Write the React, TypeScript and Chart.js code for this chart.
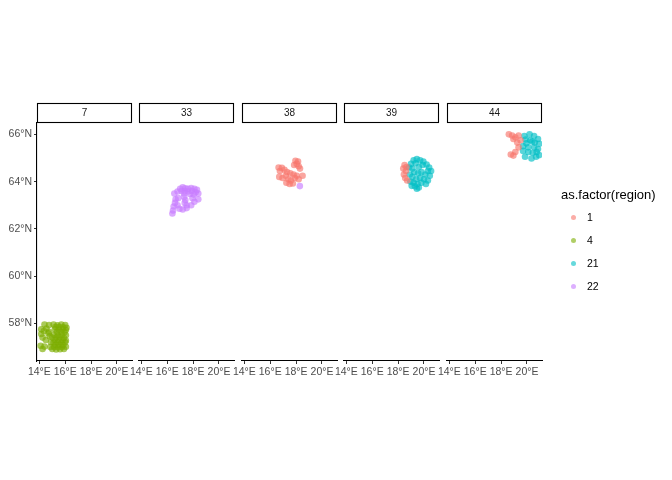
import React, { useEffect, useRef } from "react";
import { Chart, registerables } from "chart.js";

Chart.register(...registerables);
Chart.defaults.font.family = '"Liberation Sans", Arial, Helvetica, sans-serif';

type P = [number, number];

// ---- categories / labels ----
const facetLabels = ["7", "33", "38", "39", "44"];
const regionLabels = ["1", "4", "21", "22"];
const regionColors = ["#F8766D", "#7CAE00", "#00BFC4", "#C77CFF"];
const lonTicks = [14, 16, 18, 20];
const latTicks = [58, 60, 62, 64, 66];
const lonRange = [13.82, 21.16];
const latRange = [56.41, 66.48];

// ---- data: [longitude, latitude] ----
const facet7Region4: P[] = [
  [14.4, 57.95], [14.75, 57.93], [15.1, 57.95], [15.4, 57.92], [15.7, 57.95], [16.0, 57.93],
  [15.25, 57.85], [15.55, 57.85], [15.85, 57.84], [16.1, 57.82],
  [14.15, 57.75], [14.55, 57.78], [15.2, 57.75], [15.5, 57.74], [15.8, 57.75], [16.05, 57.72],
  [14.75, 57.65], [15.35, 57.64], [15.65, 57.65], [15.95, 57.63],
  [14.15, 57.55], [14.25, 57.4], [14.5, 57.3], [14.8, 57.45], [14.7, 57.58], [14.35, 57.68],
  [15.15, 57.52], [15.45, 57.5], [15.75, 57.52], [16.05, 57.5],
  [15.0, 57.4], [15.3, 57.4], [15.6, 57.41], [15.9, 57.38],
  [15.2, 57.3], [15.5, 57.29], [15.8, 57.3], [16.05, 57.28],
  [14.9, 57.2], [15.1, 57.18], [15.4, 57.2], [15.7, 57.19], [16.0, 57.2],
  [15.25, 57.1], [15.55, 57.1], [15.85, 57.09],
  [14.85, 57.0], [15.15, 57.0], [15.45, 56.99], [15.75, 57.0], [16.05, 57.01],
  [15.0, 56.92], [15.3, 56.9], [15.6, 56.91], [15.9, 56.92],
  [14.1, 57.05], [14.4, 57.02], [14.25, 56.92],
];

const facet33Region22: P[] = [
  [17.0, 63.7], [17.2, 63.76], [17.4, 63.72], [17.6, 63.7], [17.85, 63.73], [18.1, 63.7], [18.3, 63.65],
  [17.1, 63.6], [17.35, 63.6], [17.6, 63.58], [17.9, 63.6], [18.2, 63.55], [18.4, 63.5],
  [16.8, 63.58], [16.55, 63.5], [17.3, 63.5], [17.75, 63.48], [18.05, 63.45],
  [17.3, 63.35], [17.4, 63.22], [17.35, 63.1], [17.5, 63.0],
  [16.65, 63.25], [16.85, 63.3], [16.6, 63.1], [16.8, 63.0], [16.5, 62.95],
  [18.4, 63.25], [18.1, 63.15], [17.85, 63.0], [17.95, 63.3],
  [16.95, 62.85], [17.2, 62.82], [17.5, 62.88], [16.4, 62.65], [16.45, 62.78],
];

const facet38Region1: P[] = [
  [17.95, 64.88], [18.15, 64.85], [18.05, 64.75], [17.85, 64.7], [18.2, 64.65], [18.3, 64.55],
  [16.65, 64.6], [16.9, 64.58], [16.75, 64.45], [17.1, 64.5],
  [17.3, 64.4], [17.55, 64.35], [17.8, 64.3], [18.05, 64.25], [18.5, 64.25],
  [16.7, 64.2], [16.95, 64.15], [17.2, 64.25],
  [17.4, 64.1], [17.6, 64.05], [17.9, 64.15], [18.2, 64.1],
  [17.25, 63.95], [17.5, 63.9], [17.75, 63.92],
];
const facet38Region22: P[] = [[18.29, 63.81]];

const facet39Region1: P[] = [
  [18.5, 64.7], [18.4, 64.55], [18.6, 64.45], [18.45, 64.3], [18.55, 64.15], [18.7, 64.05], [18.65, 64.62],
];
const facet39Region21: P[] = [
  [19.2, 64.9], [19.45, 64.95], [19.7, 64.9], [19.95, 64.85], [19.0, 64.75], [19.35, 64.78], [19.9, 64.7],
  [20.2, 64.72], [20.4, 64.6], [20.55, 64.45],
  [18.85, 64.6], [19.1, 64.55], [19.6, 64.62], [20.3, 64.45], [19.25, 64.4], [19.55, 64.35], [19.8, 64.4],
  [20.1, 64.3], [20.45, 64.25],
  [18.9, 64.3], [19.1, 64.2], [19.4, 64.1], [19.7, 64.15], [20.0, 64.1], [20.3, 64.05],
  [18.95, 64.0], [19.2, 63.95], [19.5, 63.9], [19.8, 63.95], [20.15, 63.9], [19.3, 63.8], [19.6, 63.75],
  [19.05, 63.82], [19.45, 63.7],
];

const facet44Region1: P[] = [
  [18.6, 66.0], [18.85, 65.95], [19.1, 65.88], [18.95, 65.8], [19.25, 65.65], [19.35, 65.45],
  [19.1, 65.25], [18.95, 65.1], [18.75, 65.15], [19.35, 65.95], [19.5, 65.75],
];
const facet44Region21: P[] = [
  [19.8, 65.93], [20.2, 66.0], [20.55, 65.93], [20.85, 65.8], [20.95, 65.6], [20.4, 65.7], [19.95, 65.62],
  [19.7, 65.5], [20.1, 65.45], [20.55, 65.45], [20.85, 65.38], [19.7, 65.3], [20.1, 65.25], [20.45, 65.22],
  [19.85, 65.05], [20.35, 64.98], [20.7, 65.05], [20.95, 65.12], [20.25, 65.75], [20.6, 65.65],
  [19.9, 65.78], [20.75, 65.25],
];

// region index refers to regionLabels / regionColors
const panelSeries: { region: number; points: P[] }[][] = [
  [{ region: 1, points: facet7Region4 }],
  [{ region: 3, points: facet33Region22 }],
  [{ region: 0, points: facet38Region1 }, { region: 3, points: facet38Region22 }],
  [{ region: 0, points: facet39Region1 }, { region: 2, points: facet39Region21 }],
  [{ region: 0, points: facet44Region1 }, { region: 2, points: facet44Region21 }],
];

// ---- layout ----
const W = 672;
const H = 480;
const panelLefts = [37, 139, 242, 344, 447];
const panelWidth = 95;
const plotTop = 123;
const plotBottom = 361;
const xAxisH = 24;
const yAxisW = 37;
const stripTop = 103.5;
const stripH = 19;
const FONT = '"Liberation Sans", Arial, Helvetica, sans-serif';

function hexA(hex: string, a: number) {
  const n = parseInt(hex.slice(1), 16);
  return `rgba(${(n >> 16) & 255},${(n >> 8) & 255},${n & 255},${a})`;
}

function stripPlugin(label: string) {
  return {
    id: "strip" + label,
    afterDraw(chart: any) {
      const { ctx, chartArea } = chart;
      const x0 = chartArea.left;
      const x1 = chartArea.right;
      ctx.save();
      ctx.fillStyle = "#ffffff";
      ctx.strokeStyle = "#000000";
      ctx.lineWidth = 1.1;
      ctx.fillRect(x0 + 0.5, stripTop, x1 - x0 - 1, stripH);
      ctx.strokeRect(x0 + 0.5, stripTop, x1 - x0 - 1, stripH);
      ctx.fillStyle = "#1a1a1a";
      ctx.font = `10px ${FONT}`;
      ctx.textAlign = "center";
      ctx.textBaseline = "middle";
      ctx.fillText(label, (x0 + x1) / 2, stripTop + stripH / 2 + 0.5);
      ctx.restore();
    },
  };
}

function Panel({ index }: { index: number }) {
  const ref = useRef<HTMLCanvasElement | null>(null);
  useEffect(() => {
    if (!ref.current) return;
    const first = index === 0;
    const left = panelLefts[index];
    const chart = new Chart(ref.current, {
      type: "scatter",
      data: {
        datasets: panelSeries[index].map((s) => ({
          label: regionLabels[s.region],
          data: s.points.map(([x, y]) => ({ x, y })),
          backgroundColor: hexA(regionColors[s.region], 0.65),
          borderWidth: 0,
          pointRadius: 3.3,
          pointHoverRadius: 3.3,
        })),
      },
      options: {
        animation: false,
        responsive: false,
        maintainAspectRatio: false,
        events: [],
        layout: {
          padding: {
            left: first ? left - yAxisW : left,
            right: W - (left + panelWidth),
            top: plotTop,
            bottom: H - plotBottom - xAxisH,
          },
        },
        plugins: { legend: { display: false }, tooltip: { enabled: false } },
        scales: {
          x: {
            type: "linear",
            min: lonRange[0],
            max: lonRange[1],
            afterBuildTicks: (s: any) => {
              s.ticks = lonTicks.map((v) => ({ value: v }));
            },
            afterFit: (s: any) => {
              s.height = xAxisH;
            },
            ticks: {
              autoSkip: false,
              maxRotation: 0,
              padding: 2,
              color: "#4d4d4d",
              font: { size: 10.5, family: FONT },
              callback: (v: any) => `${v}°E`,
            },
            grid: { drawOnChartArea: false, drawTicks: true, tickLength: 3, color: "#333333", tickWidth: 1 },
            border: { display: true, color: "#000000", width: 1.1 },
          },
          y: {
            type: "linear",
            display: first,
            min: latRange[0],
            max: latRange[1],
            afterBuildTicks: (s: any) => {
              s.ticks = latTicks.map((v) => ({ value: v }));
            },
            afterFit: (s: any) => {
              if (first) s.width = yAxisW;
            },
            ticks: {
              autoSkip: false,
              padding: 2,
              color: "#4d4d4d",
              font: { size: 10.5, family: FONT },
              callback: (v: any) => `${v}°N`,
            },
            grid: { drawOnChartArea: false, drawTicks: true, tickLength: 3, color: "#333333", tickWidth: 1 },
            border: { display: true, color: "#000000", width: 1.1 },
          },
        },
      },
      plugins: [stripPlugin(facetLabels[index])],
    } as any);
    return () => chart.destroy();
  }, [index]);
  return (
    <canvas
      ref={ref}
      width={W}
      height={H}
      style={{ position: "absolute", left: 0, top: 0, width: W, height: H, pointerEvents: "none" }}
    />
  );
}

const legendTitleY = 195;
const legendKeyY = [217, 240, 263, 286];

export default function App() {
  return (
    <div
      style={{
        position: "absolute",
        left: 0,
        top: 0,
        width: W,
        height: H,
        background: "#ffffff",
        fontFamily: FONT,
        overflow: "hidden",
      }}
    >
      {facetLabels.map((_, i) => (
        <Panel key={i} index={i} />
      ))}
      <div
        style={{
          position: "absolute",
          left: 561,
          top: legendTitleY - 8,
          lineHeight: "16px",
          fontSize: 13,
          color: "#000000",
          whiteSpace: "nowrap",
        }}
      >
        as.factor(region)
      </div>
      {regionLabels.map((r, i) => (
        <React.Fragment key={r}>
          <div
            style={{
              position: "absolute",
              left: 570.5,
              top: legendKeyY[i] - 2.5,
              width: 5,
              height: 5,
              borderRadius: "50%",
              background: hexA(regionColors[i], 0.6),
            }}
          />
          <div
            style={{
              position: "absolute",
              left: 587,
              top: legendKeyY[i] - 8,
              lineHeight: "16px",
              fontSize: 10.5,
              color: "#000000",
              whiteSpace: "nowrap",
            }}
          >
            {r}
          </div>
        </React.Fragment>
      ))}
    </div>
  );
}
